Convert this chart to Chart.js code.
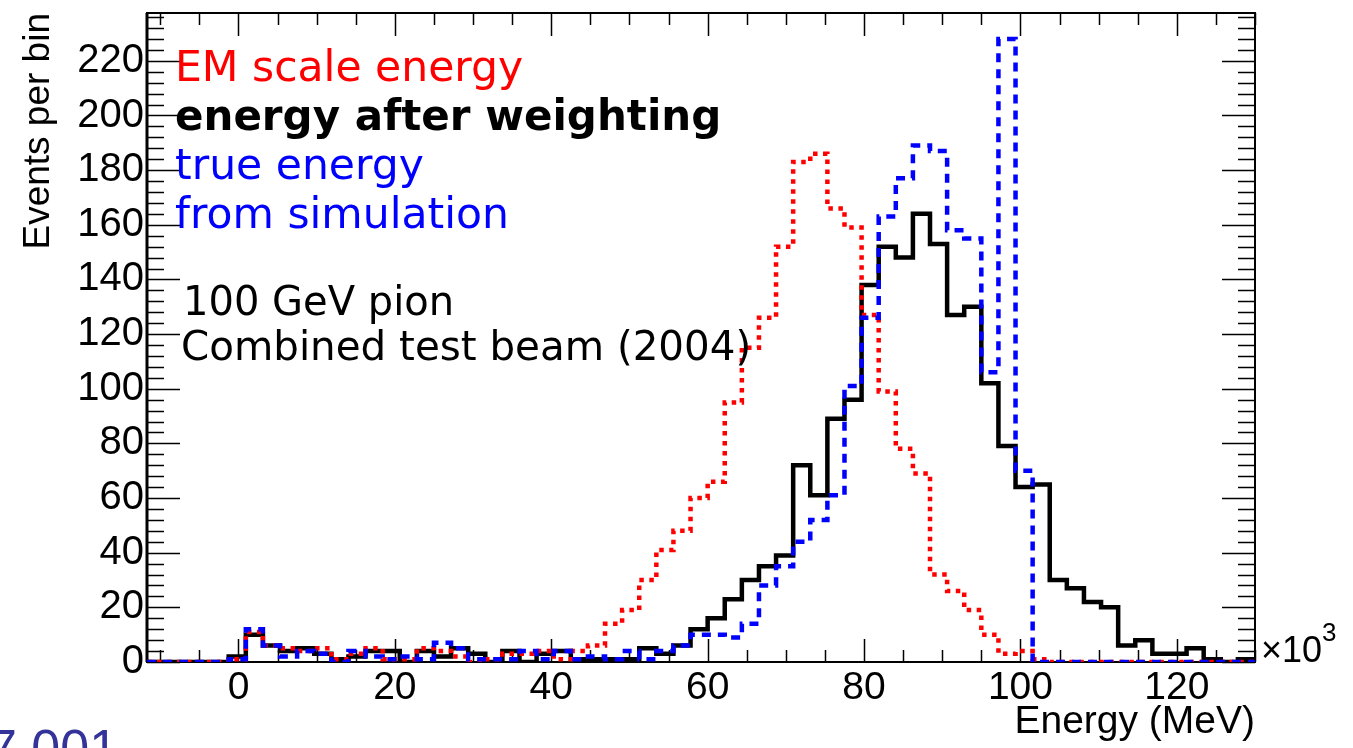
<!DOCTYPE html>
<html>
<head>
<meta charset="utf-8">
<script src="https://cdn.jsdelivr.net/npm/chart.js@4.4.0/dist/chart.umd.min.js"></script>
<style>
  html, body { margin: 0; padding: 0; background: #fff; }
  #wrap { position: relative; width: 1353px; height: 748px; }
</style>
</head>
<body>
<div id="wrap"><canvas id="chartEnergy"></canvas></div>
<script>
// === Binning (energy in 10^3 MeV) ===
const binStart = -10;
const binWidth = 2.1875;
const xMin = -11.7;
const xMax = 130;

// === Bin contents (64 bins) ===
const weighted = [0, 0, 0, 0, 2, 10, 6, 4, 5, 3, 1, 2, 4, 4, 0, 4, 2, 5, 3, 0, 4, 0, 3, 4,
  1, 1, 1, 1, 5, 3, 6, 12, 16, 23, 30, 35, 39, 72, 61, 89, 96, 138, 152, 148, 164, 153,
  127, 130, 102, 79, 64, 65, 30, 27, 22, 20, 6, 8, 3, 3, 5, 1, 0, 1];
const emScale = [0, 0, 0, 0, 1, 11, 6, 5, 4, 5, 1, 3, 5, 1, 1, 5, 4, 2, 0, 1, 3, 3, 4, 1,
  4, 6, 14, 19, 30, 41, 48, 60, 66, 95, 115, 126, 152, 183, 186, 166, 159, 127, 99, 78, 69, 32,
  26, 19, 10, 3, 4, 1, 0, 0, 0, 0, 0, 0, 0, 0, 0, 0, 0, 0];
const trueEnergy = [0, 0, 0, 0, 1, 12, 6, 2, 4, 3, 0, 4, 2, 1, 2, 1, 7, 5, 1, 1, 1, 4, 1, 4,
  1, 2, 1, 4, 1, 4, 6, 10, 10, 9, 14, 28, 35, 44, 52, 61, 101, 126, 163, 177, 189, 187,
  158, 155, 106, 228, 70, 0, 0, 0, 0, 0, 0, 0, 0, 0, 0, 0, 0, 0];

// === Axis labels ===
const xTicks = [0, 20, 40, 60, 80, 100, 120];
const yTicks = [0, 20, 40, 60, 80, 100, 120, 140, 160, 180, 200, 220];

// histogram outline: one point per bin edge, zero line from the axis start
function histPoints(values) {
  const pts = [{ x: xMin, y: 0 }];
  values.forEach((v, i) => pts.push({ x: binStart + i * binWidth, y: v }));
  pts.push({ x: binStart + values.length * binWidth, y: values[values.length - 1] });
  return pts;
}

// === ROOT style frame with inner ticks ===
const rootFrame = {
  id: "rootFrame",
  beforeDatasetsDraw(chart) {
    const { ctx, chartArea: a, scales: { x, y } } = chart;
    ctx.save();
    ctx.strokeStyle = "#000";
    ctx.lineWidth = 1.5;
    ctx.beginPath();
    for (let v = -10; v <= xMax; v += 5) {
      const px = Math.round(x.getPixelForValue(v)) + 0.5;
      const len = v % 20 === 0 ? 23 : 12;
      ctx.moveTo(px, a.bottom); ctx.lineTo(px, a.bottom - len);
      ctx.moveTo(px, a.top); ctx.lineTo(px, a.top + len);
    }
    for (let v = 0; v <= y.max; v += 4) {
      const py = Math.round(y.getPixelForValue(v)) + 0.5;
      const len = v % 20 === 0 ? 33 : 17;
      ctx.moveTo(a.left, py); ctx.lineTo(a.left + len, py);
      ctx.moveTo(a.right, py); ctx.lineTo(a.right - len, py);
    }
    ctx.stroke();
    ctx.lineWidth = 2;
    ctx.strokeRect(a.left, a.top, a.right - a.left, a.bottom - a.top);
    ctx.lineWidth = 3;
    ctx.beginPath();
    ctx.moveTo(a.left, a.top); ctx.lineTo(a.left, a.bottom);
    ctx.stroke();
    ctx.restore();
  },
  afterDraw(chart) {
    const ctx = chart.ctx;
    ctx.save();
    ctx.textBaseline = "alphabetic";
    ctx.textAlign = "left";
    ctx.font = '42.5px "DejaVu Sans"';
    ctx.fillStyle = "#ff0000";
    ctx.fillText("EM scale energy", 175, 81);
    ctx.font = 'bold 42px "DejaVu Sans"';
    ctx.fillStyle = "#000";
    ctx.fillText("energy after weighting", 175, 130);
    ctx.font = '42.5px "DejaVu Sans"';
    ctx.fillStyle = "#0000ff";
    ctx.fillText("true energy", 175, 179);
    ctx.fillText("from simulation", 175, 228);
    ctx.font = '40px "DejaVu Sans"';
    ctx.fillStyle = "#000";
    ctx.fillText("100 GeV pion", 183, 315);
    ctx.font = '40.4px "DejaVu Sans"';
    ctx.fillText("Combined test beam (2004)", 181, 360);
    // exponent of the x axis
    ctx.font = '36px "Liberation Sans"';
    ctx.fillText("\u00d710", 1261, 662);
    ctx.font = '26px "Liberation Sans"';
    ctx.fillText("3", 1322, 641);
    // slide footer, cut by the page edge
    ctx.font = '52px "Liberation Sans"';
    ctx.fillStyle = "#333399";
    ctx.fillText("7.001", -12, 766);
    ctx.restore();
  }
};

new Chart(document.getElementById("chartEnergy"), {
  type: "line",
  data: {
    datasets: [
      {
        label: "true energy from simulation",
        data: histPoints(trueEnergy),
        borderColor: "#0000ff",
        borderWidth: 4.5,
        borderDash: [9, 7],
        stepped: "before",
        pointRadius: 0,
        fill: false
      },
      {
        label: "EM scale energy",
        data: histPoints(emScale),
        borderColor: "#ff0000",
        borderWidth: 4.5,
        borderDash: [4.5, 5.5],
        stepped: "before",
        pointRadius: 0,
        fill: false
      },
      {
        label: "energy after weighting",
        data: histPoints(weighted),
        borderColor: "#000000",
        borderWidth: 4.5,
        stepped: "before",
        pointRadius: 0,
        fill: false
      }
    ]
  },
  options: {
    responsive: true,
    maintainAspectRatio: false,
    animation: false,
    events: [],
    layout: {
      padding: { left: 0, right: 98, top: 13, bottom: 0 }
    },
    plugins: {
      legend: { display: false },
      tooltip: { enabled: false }
    },
    scales: {
      x: {
        type: "linear",
        min: xMin,
        max: xMax,
        grid: { display: false, drawTicks: false },
        border: { display: false },
        afterFit: s => { s.height = 86; s.paddingLeft = 0; s.paddingRight = 0; },
        afterBuildTicks: s => { s.ticks = xTicks.map(v => ({ value: v })); },
        ticks: {
          color: "#000",
          padding: 3,
          maxRotation: 0,
          autoSkip: false,
          font: { family: "Liberation Sans", size: 39 }
        },
        title: {
          display: true,
          text: "Energy (MeV)",
          align: "end",
          color: "#000",
          padding: { top: 0, bottom: 2 },
          font: { family: "Liberation Sans", size: 39 }
        }
      },
      y: {
        min: 0,
        max: 237.5,
        grid: { display: false, drawTicks: false },
        border: { display: false },
        afterFit: s => { s.width = 147; s.paddingTop = 0; s.paddingBottom = 0; },
        afterBuildTicks: s => { s.ticks = yTicks.map(v => ({ value: v })); },
        ticks: {
          color: "#000",
          padding: 3,
          autoSkip: false,
          font: { family: "Liberation Sans", size: 40 }
        },
        title: {
          display: true,
          text: "Events per bin",
          align: "end",
          color: "#000",
          padding: { top: 17, bottom: 0 },
          font: { family: "Liberation Sans", size: 37 }
        }
      }
    }
  },
  plugins: [rootFrame]
});
</script>
</body>
</html>
